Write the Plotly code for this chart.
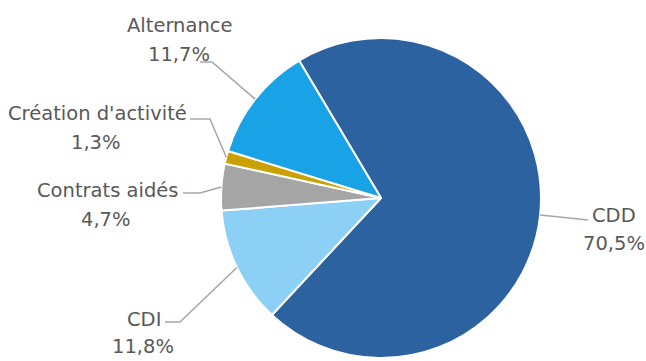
import math
import plotly.graph_objects as go

labels = ["CDD", "CDI", "Contrats aidés", "Création d'activité", "Alternance"]
values = [70.5, 11.8, 4.7, 1.3, 11.7]
pct_text = ["70,5%", "11,8%", "4,7%", "1,3%", "11,7%"]
colors = ["#2c62a0", "#8dd0f5", "#a5a5a5", "#c9a100", "#1aa2e6"]

W, H = 646, 361
CX, CY, R = 381, 198, 160
ROT = 329.2  # degrees clockwise from 12 o'clock where first slice starts

# text centers (name line, percent line) in pixels
name_pos = {
    "CDD": (614, 214),
    "CDI": (144, 318),
    "Contrats aidés": (107, 189),
    "Création d'activité": (97, 112),
    "Alternance": (179, 24),
}
pct_pos = {
    "CDD": (614, 242),
    "CDI": (143, 345),
    "Contrats aidés": (106, 219),
    "Création d'activité": (96, 141),
    "Alternance": (179, 54),
}
elbow_pt = {
    "CDD": (588, 220),
    "CDI": (180, 322),
    "Contrats aidés": (200, 193),
    "Création d'activité": (210, 119),
    "Alternance": (212, 62),
}
end_pt = {
    "CDD": (588, 220),
    "CDI": (165, 322),
    "Contrats aidés": (183, 193),
    "Création d'activité": (190, 119),
    "Alternance": (200, 62),
}

def px(x):
    return x / W

def py(y):
    return 1 - y / H

fig = go.Figure(go.Pie(
    labels=labels, values=values, sort=False, direction="clockwise",
    rotation=ROT, marker=dict(colors=colors, line=dict(color="white", width=2)),
    textinfo="none", hoverinfo="label+percent", showlegend=False,
    domain=dict(x=[px(CX - R), px(CX + R)], y=[py(CY + R), py(CY - R)]),
))

FONT = dict(size=19.5, color="#595959", family="DejaVu Sans")
total = sum(values)
acc = 0.0
shapes = []
annotations = []
for lab, v, t in zip(labels, values, pct_text):
    mid = ROT + (acc + v / 2) / total * 360
    acc += v
    a = math.radians(mid)
    sx = CX + R * math.sin(a)
    sy = CY - R * math.cos(a)
    el = elbow_pt[lab]
    ex, ey = end_pt[lab]
    path = f"M {px(sx)} {py(sy)} L {px(el[0])} {py(el[1])} L {px(ex)} {py(ey)}"
    shapes.append(dict(type="path", xref="paper", yref="paper", path=path,
                       line=dict(color="#a6a6a6", width=1.5)))
    for txt, (tx, ty) in ((lab, name_pos[lab]), (t, pct_pos[lab])):
        annotations.append(dict(x=px(tx), y=py(ty + 1), xref="paper", yref="paper",
                                text=txt, showarrow=False, font=FONT,
                                xanchor="center", yanchor="middle"))

fig.update_layout(
    width=W, height=H, margin=dict(l=0, r=0, t=0, b=0),
    paper_bgcolor="white", plot_bgcolor="white",
    shapes=shapes, annotations=annotations,
)
fig.write_html("out.html", config={"displayModeBar": False},
               post_script="document.body.style.margin='0';")
